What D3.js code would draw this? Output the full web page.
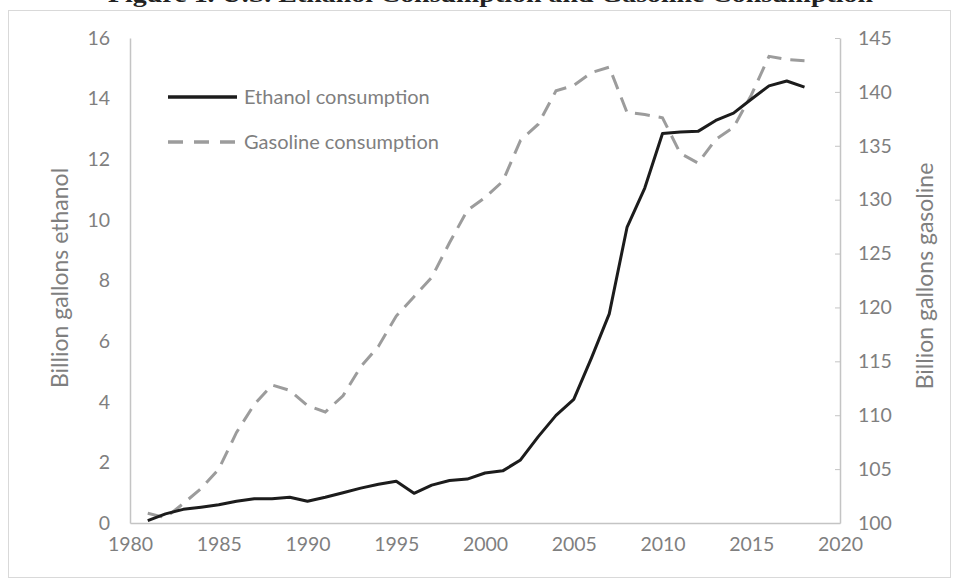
<!DOCTYPE html>
<html>
<head>
<meta charset="utf-8">
<script src="https://cdn.jsdelivr.net/npm/d3@7"></script>
<style>
  body { margin: 0; background: #fff; }
  svg { display: block; }
  .axis text { font-family: Lato, sans-serif; fill: #7f7f7f; }
  .axis path, .axis line { stroke: #c4c4c4; }
</style>
</head>
<body>
<div id="chart"></div>
<script>
// data
const years = d3.range(1981, 2019);
const ethanol = [0.08, 0.3, 0.45, 0.52, 0.6, 0.72, 0.8, 0.8, 0.85, 0.72,
  0.85, 1.0, 1.15, 1.28, 1.38, 0.98, 1.25, 1.4, 1.45, 1.65,
  1.72, 2.08, 2.85, 3.55, 4.08, 5.45, 6.9, 9.75, 11.05, 12.85,
  12.9, 12.92, 13.28, 13.52, 13.98, 14.42, 14.58, 14.38];
const gasoline = [100.9, 100.5, 101.8, 103.2, 105.0, 108.4, 111.0, 112.8, 112.3, 110.9,
  110.3, 111.8, 114.5, 116.4, 119.2, 121.0, 122.8, 126.0, 129.0, 130.2,
  131.7, 135.5, 137.0, 140.1, 140.6, 141.8, 142.3, 138.1, 137.9, 137.6,
  134.3, 133.4, 135.6, 136.7, 139.7, 143.3, 143.0, 142.9];
const xTicks = [1980, 1985, 1990, 1995, 2000, 2005, 2010, 2015, 2020];
const leftTicks = [0, 2, 4, 6, 8, 10, 12, 14, 16];
const rightTicks = [100, 105, 110, 115, 120, 125, 130, 135, 140, 145];

// layout constants
const W = 959, H = 583;
const mLeft = 130, mRight = 840, mTop = 38, mBottom = 523;

const svg = d3.select("#chart").append("svg")
  .attr("width", W)
  .attr("height", H);

// title strip (cut off at the top edge, as in the scan) and chart frame
svg.append("text")
  .attr("x", 108)
  .attr("y", 2)
  .attr("textLength", 765)
  .attr("lengthAdjust", "spacingAndGlyphs")
  .style("font-family", "'Liberation Serif', serif")
  .style("font-weight", "bold")
  .style("font-size", "24px")
  .style("fill", "#222")
  .text("Figure 1. U.S. Ethanol Consumption and Gasoline Consumption");

svg.append("rect")
  .attr("x", 8.5).attr("y", 10.5)
  .attr("width", 942).attr("height", 567)
  .attr("fill", "none")
  .attr("stroke", "#d9d9d9");

// scales
const x = d3.scaleLinear().domain([1980, 2020]).range([mLeft, mRight]);
const yL = d3.scaleLinear().domain([0, 16]).range([mBottom, mTop]);
const yR = d3.scaleLinear().domain([100, 145]).range([mBottom, mTop]);

// axes
svg.append("g")
  .attr("class", "axis")
  .attr("transform", `translate(0,${mBottom})`)
  .call(d3.axisBottom(x).tickValues(xTicks).tickFormat(d3.format("d")).tickSize(0).tickPadding(14))
  .call(g => g.selectAll("text").style("font-size", "19.5px"))
  .call(g => g.select(".domain").attr("stroke-width", 1.5));

svg.append("g")
  .attr("class", "axis")
  .attr("transform", `translate(${mLeft},0)`)
  .call(d3.axisLeft(yL).tickValues(leftTicks).tickSize(0).tickPadding(20))
  .call(g => g.selectAll("text").style("font-size", "19.5px"))
  .call(g => g.select(".domain").attr("stroke-width", 1.5));

svg.append("g")
  .attr("class", "axis")
  .attr("transform", `translate(${mRight},0)`)
  .call(d3.axisRight(yR).tickValues(rightTicks).tickSizeInner(-5).tickSizeOuter(0).tickPadding(18))
  .call(g => g.selectAll("text").style("font-size", "19.5px"))
  .call(g => g.select(".domain").attr("stroke-width", 1.5));

// axis titles
svg.append("text")
  .attr("transform", `translate(68,278) rotate(-90)`)
  .attr("text-anchor", "middle")
  .style("font-family", "Lato, sans-serif")
  .style("font-size", "23px")
  .style("fill", "#7f7f7f")
  .text("Billion gallons ethanol");

svg.append("text")
  .attr("transform", `translate(933,276) rotate(-90)`)
  .attr("text-anchor", "middle")
  .style("font-family", "Lato, sans-serif")
  .style("font-size", "23px")
  .style("fill", "#7f7f7f")
  .text("Billion gallons gasoline");

// lines
const ethLine = d3.line().x((d, i) => x(years[i])).y(d => yL(d));
const gasLine = d3.line().x((d, i) => x(years[i])).y(d => yR(d));

svg.append("path")
  .datum(gasoline)
  .attr("d", gasLine)
  .attr("fill", "none")
  .attr("stroke", "#9c9c9c")
  .attr("stroke-width", 3)
  .attr("stroke-dasharray", "15,9");

svg.append("path")
  .datum(ethanol)
  .attr("d", ethLine)
  .attr("fill", "none")
  .attr("stroke", "#1c1c1c")
  .attr("stroke-width", 3)
  .attr("stroke-linejoin", "round");

// legend
const legend = [
  { name: "Ethanol consumption", color: "#1c1c1c", dash: null, y: 97 },
  { name: "Gasoline consumption", color: "#9c9c9c", dash: "15,11", y: 142 }
];

legend.forEach(l => {
  svg.append("line")
    .attr("x1", 168).attr("x2", 237)
    .attr("y1", l.y).attr("y2", l.y)
    .attr("stroke", l.color)
    .attr("stroke-width", 3.5)
    .attr("stroke-dasharray", l.dash);
  svg.append("text")
    .attr("x", 244)
    .attr("y", l.y + 7)
    .style("font-family", "Lato, sans-serif")
    .style("font-size", "20px")
    .style("fill", "#7f7f7f")
    .text(l.name);
});
</script>
</body>
</html>
